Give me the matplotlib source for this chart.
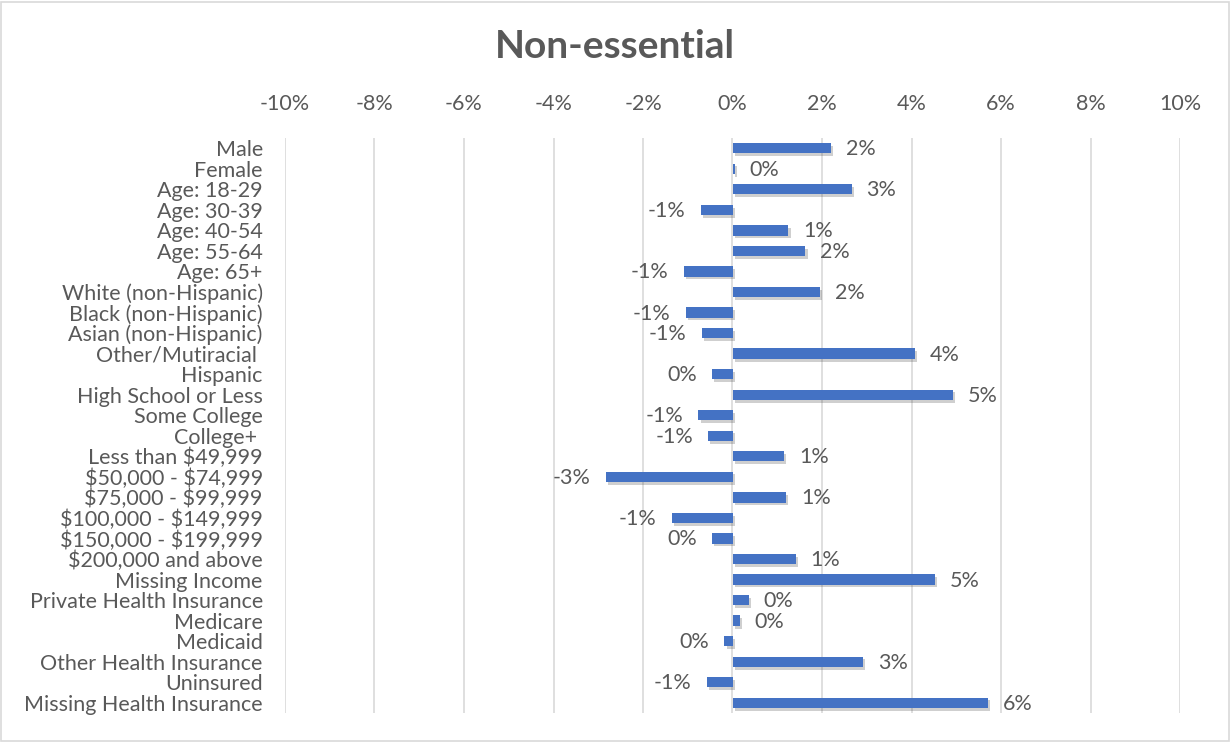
import matplotlib
matplotlib.use("Agg")
import matplotlib.pyplot as plt
import matplotlib.patheffects as pe
from matplotlib.patches import Rectangle
from matplotlib.ticker import FuncFormatter, MultipleLocator

categories = [
    "Male", "Female", "Age: 18-29", "Age: 30-39", "Age: 40-54", "Age: 55-64",
    "Age: 65+", "White (non-Hispanic)", "Black (non-Hispanic)",
    "Asian (non-Hispanic)", "Other/Mutiracial ", "Hispanic",
    "High School or Less", "Some College", "College+ ", "Less than $49,999",
    "$50,000 - $74,999", "$75,000 - $99,999", "$100,000 - $149,999",
    "$150,000 - $199,999", "$200,000 and above", "Missing Income",
    "Private Health Insurance", "Medicare", "Medicaid",
    "Other Health Insurance", "Uninsured", "Missing Health Insurance",
]
values = [
    0.0221, 0.0005, 0.0266, -0.0071, 0.0125, 0.0163,
    -0.0109, 0.0196, -0.0105, -0.0069, 0.0408, -0.0045,
    0.0493, -0.0076, -0.0054, 0.0116, -0.0283, 0.0120,
    -0.0136, -0.0045, 0.0141, 0.0453, 0.0036, 0.0016,
    -0.0018, 0.0292, -0.0058, 0.0571,
]
title = "Non-essential"

TXT = "#595959"
BAR = "#4472C4"
GRID = "#D9D9D9"
plt.rcParams["font.family"] = ["Lato", "DejaVu Sans"]
plt.rcParams["text.usetex"] = False
plt.rcParams["text.parse_math"] = False

FS = 15.5

fig = plt.figure(figsize=(12.3, 7.42), dpi=100)
ax = fig.add_axes([285 / 1230, 1 - 713 / 742, (1180 - 285) / 1230, (713 - 138) / 742])

n = len(categories)
ypos = list(range(n))
bars = ax.barh(ypos, values, height=0.5, color=BAR, zorder=3)
for b in bars:
    b.set_path_effects([pe.SimplePatchShadow(offset=(1.5, -2), alpha=0.25, shadow_rgbFace="#404040"), pe.Normal()])

ax.set_ylim(n - 0.5, -0.5)
ax.set_xlim(-0.1, 0.1)
ax.set_yticks(ypos)
ax.set_yticklabels(categories, fontsize=FS, color=TXT)
ax.xaxis.set_major_locator(MultipleLocator(0.02))
ax.xaxis.set_major_formatter(FuncFormatter(lambda v, p: f"{round(v*100):.0f}%"))
ax.xaxis.tick_top()
ax.tick_params(axis="x", length=0, pad=17, labelsize=FS, labelcolor=TXT)
ax.tick_params(axis="y", length=0, pad=16)
for s in ax.spines.values():
    s.set_visible(False)
ax.grid(axis="x", color=GRID, linewidth=1.2, zorder=0)
ax.set_axisbelow(True)

for y, v in zip(ypos, values):
    lab = f"{round(v*100):.0f}%"
    if lab == "-0%":
        lab = "0%"
    if v >= 0:
        ax.annotate(lab, (v, y), xytext=(15, -1), textcoords="offset pixels",
                    ha="left", va="center", fontsize=FS, color=TXT)
    else:
        ax.annotate(lab, (v, y), xytext=(-15, -1), textcoords="offset pixels",
                    ha="right", va="center", fontsize=FS, color=TXT)

fig.text(0.5, 1 - 47 / 742, title, ha="center", va="center", fontsize=28,
         fontweight="bold", color=TXT)
fig.patches.append(Rectangle((1 / 1230, 1 / 742), 1228 / 1230, 739 / 742,
                             transform=fig.transFigure, fill=False,
                             edgecolor="#D9D9D9", linewidth=1.2))

fig.savefig("out.png", dpi=100)
